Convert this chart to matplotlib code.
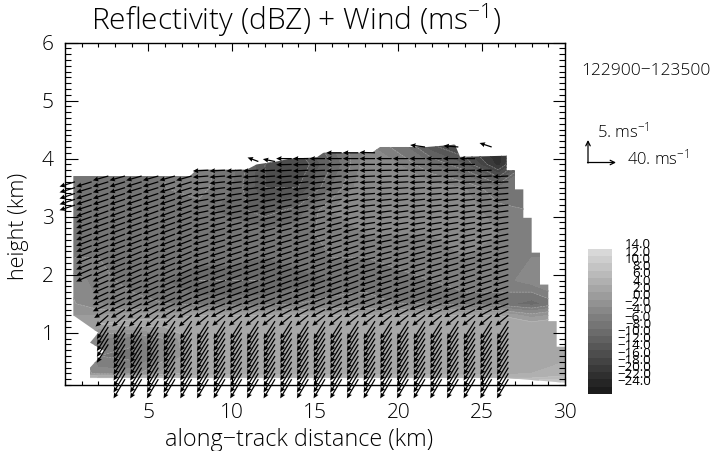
import matplotlib
matplotlib.use("Agg")
import matplotlib.pyplot as plt
import numpy as np
from matplotlib.colors import BoundaryNorm, LinearSegmentedColormap
from matplotlib.patches import Polygon
from matplotlib.ticker import MultipleLocator

plt.rcParams['font.family'] = ['Open Sans', 'DejaVu Sans']
plt.rcParams['font.weight'] = 300
plt.rcParams['mathtext.default'] = 'regular'

# Reflectivity table (dBZ): rows follow refl_z, columns follow refl_x
refl_x = [0, 2, 4, 6, 8, 10, 12, 14, 16, 18, 20, 22, 24, 26, 28, 31]
refl_z = [0.1, 0.22, 0.3, 0.6, 0.9, 1.15, 1.3, 1.5, 1.9, 2.3, 2.7, 3.1, 3.5, 3.9, 4.3]
refl = [
    [14, 14, 14, 14, 14, 14, 14, 14, 14, 14, 14, 14, 14, 14, 12, 12],
    [7, 6, 6, 6, 6, 6, 6, 6, 6, 6, 6, 6, 6, 6, 6, 8],
    [2, -3, -3, 1, 3, 3, 3, 3, 3, 3, 3, 3, 3, 3, 4, 5],
    [2, -6, -7, -3, 3, 3, 3, 3, 3, 3, 3, 3, 3, 3, 4, 4],
    [2, -4, -5, -2, 3, 3, 3, 3, 3, 3, 3, 3, 3, 3, 3, 3],
    [1, 2, 3, 3, 3, 3, 3, 3, 3, 3, 3, 3, 3, 3, 3, 3],
    [0, 0, 1, 1, 2, 2, 2, 2, 2, 2, 2, 2, 2, 2, -1, 2],
    [-1, -4, -5, -6, -7, -7, -7, -6, -5, -5, -6, -6, -7, -7, -9, -4],
    [-2, -5, -7, -8, -10, -10, -10, -9, -8, -7, -7, -6, -5, -5, -3, -3],
    [-6, -6, -6, -7, -7, -7, -8, -7, -6, -6, -5, -5, -4, -4, -4, -4],
    [-6, -7, -7, -7, -6, -6, -7, -7, -5, -4, -4, -4, -3, -4, -5, -5],
    [-6, -7, -7, -7, -7, -9, -11, -9, -4, -3, -3, -3, -3, -5, -6, -5],
    [-6, -6, -6, -6, -5, -8, -14, -14, -8, -2, -3, -3, -4, -8, -6, -6],
    [-6, -6, -6, -6, -5, -7, -14, -16, -10, -3, -4, -8, -12, -21, -8, -6],
    [-6, -6, -6, -6, -4, -6, -12, -13, -8, -4, -8, -15, -18, -22, -8, -8],
]

# Outline of the echo region (km, km)
edge_x = [0.5, 7.5, 7.9, 10.9, 11.5, 12.7, 13.5, 15.1, 15.5, 18.4, 18.9, 21.7, 23.4, 23.7, 26.5, 26.5, 27.0, 27.0, 27.5, 27.5, 28.0, 28.0, 28.5, 28.5, 29.0, 29.0, 29.5, 29.5, 30.0, 30.4,
          26.5, 1.5, 1.5, 2.4, 1.5, 2.0, 0.5]
edge_z = [3.7, 3.7, 3.81, 3.81, 3.9, 3.95, 4.0, 4.02, 4.1, 4.1, 4.2, 4.2, 4.24, 4.03, 4.05, 3.8, 3.8, 3.47, 3.47, 2.98, 2.98, 2.38, 2.38, 1.83, 1.83, 1.2, 1.2, 0.76, 0.76, 0.13,
          0.22, 0.22, 0.4, 0.68, 0.83, 1.0, 1.3]

# Wind: tail columns and levels, each column has a lowest and highest level
col_x = [0.6, 1.6, 2.6, 3.6, 4.6, 5.6, 6.6, 7.6, 8.6, 9.6, 10.6, 11.6, 12.6, 13.6,
         14.6, 15.6, 16.6, 17.6, 18.6, 19.6, 20.6, 21.6, 22.6, 23.6, 24.6, 25.6, 26.6]
col_bottom = [3.2, 2.0, 0.8, 0.2, 0.2, 0.2, 0.2, 0.2, 0.2, 0.2, 0.2, 0.2, 0.2, 0.2,
              0.2, 0.2, 0.2, 0.2, 0.2, 0.2, 0.2, 0.2, 0.2, 0.2, 0.2, 0.2, 0.2]
col_top = [3.6, 3.6, 3.7, 3.7, 3.7, 3.7, 3.7, 3.7, 3.8, 3.8, 3.8, 3.8, 3.8, 4.0,
           4.0, 4.0, 4.1, 4.1, 4.1, 4.0, 4.0, 4.0, 4.0, 4.0, 4.0, 3.8, 3.7]
levels = [0.2, 0.3, 0.4, 0.5, 0.6, 0.7, 0.8, 0.9, 1.0, 1.1, 1.2, 1.3, 1.4, 1.5, 1.6, 1.7, 1.8, 1.9, 2.0,
          2.1, 2.2, 2.3, 2.4, 2.5, 2.6, 2.7, 2.8, 2.9, 3.0, 3.1, 3.2, 3.3, 3.4, 3.5, 3.6, 3.7, 3.8, 3.9, 4.0, 4.1]
u_prof = [-17, -17, -17, -17, -17, -17, -17, -17, -17, -17, -17, -19, -21, -23, -23, -23, -23, -23, -23,
          -23, -23, -23, -23, -23, -23, -23, -23, -23, -23, -23, -23, -23, -23, -23, -23, -23, -23, -23, -23, -23]
w_west = [-4.8, -4.8, -4.8, -4.7, -4.7, -4.6, -4.6, -4.6, -4.6, -4.5, -4.5, -2.8, -2.1, -1.9, -1.8, -1.8, -1.7, -1.7, -1.7,
          -1.7, -1.6, -1.6, -1.6, -1.5, -1.5, -1.5, -1.4, -1.4, -1.4, -1.4, -1.3, -1.3, -1.3, -1.2, -1.2, -1.1, -1.0, -0.9, -0.8, -0.7]
w_mid = [-4.8, -4.8, -4.8, -4.7, -4.7, -4.6, -4.6, -4.6, -4.6, -4.5, -4.5, -2.6, -1.9, -1.6, -1.5, -1.4, -1.4, -1.4, -1.4,
         -1.3, -1.3, -1.3, -1.2, -1.2, -1.1, -1.1, -1.0, -1.0, -0.9, -0.8, -0.8, -0.7, -0.6, -0.5, -0.4, -0.3, -0.2, -0.1, 0.0, 0.0]
w_east = [-4.8, -4.8, -4.8, -4.7, -4.7, -4.6, -4.6, -4.6, -4.6, -4.5, -4.5, -2.6, -1.9, -1.5, -1.4, -1.3, -1.3, -1.2, -1.2,
          -1.1, -1.1, -1.0, -1.0, -0.9, -0.8, -0.8, -0.7, -0.6, -0.5, -0.5, -0.4, -0.4, -0.3, -0.3, -0.2, -0.2, -0.1, 0.0, 0.0, 0.1]
# Isolated arrows above the main field
iso_x = [11.6, 12.6, 21.6, 23.6, 25.6]
iso_z = [3.95, 3.95, 4.2, 4.2, 4.2]
iso_u = [-16, -18, -22, -22, -18]
iso_w = [1.0, 0.6, 0.5, 0.3, 1.0]

cb_labels = ['14.0', '12.0', '10.0', '8.0', '6.0', '4.0', '2.0', '0.0', '\u22122.0', '\u22124.0', '\u22126.0',
             '\u22128.0', '\u221210.0', '\u221212.0', '\u221214.0', '\u221216.0', '\u221218.0', '\u221220.0', '\u221222.0', '\u221224.0']
x_ticks = [5, 10, 15, 20, 25, 30]
y_ticks = [1, 2, 3, 4, 5, 6]

W, H = 714, 451
fig = plt.figure(figsize=(W / 100, H / 100), dpi=100)
ax = fig.add_axes([65 / W, 1 - 385 / H, 500 / W, 342.5 / H])
ax.set_xlim(0, 30)
ax.set_ylim(0.1, 6.0)

bounds = np.arange(-26, 16, 2)
cmap = LinearSegmentedColormap.from_list('g', ['#1c1c1c', '#d8d8d8'], len(bounds) - 1)
norm = BoundaryNorm(bounds, cmap.N)

cs = ax.contourf(refl_x, refl_z, refl, levels=bounds, cmap=cmap, norm=norm, extend='both', antialiased=False)
clip = Polygon(np.column_stack([edge_x, edge_z]), closed=True, transform=ax.transData, fc='none', ec='none')
ax.add_patch(clip)
cs.set_clip_path(clip)
lines = ax.contour(refl_x, refl_z, refl, levels=bounds[::2], colors='#c8c8c8', linewidths=0.4, alpha=0.6)
lines.set_clip_path(clip)

# wind scaling in pixels per m/s, taken from the key
sx, sz = 27 / 40, 20 / 5
X, Y, U, V = [], [], [], []
for cx, lo, hi in zip(col_x, col_bottom, col_top):
    prof = w_west if cx < 8 else (w_mid if cx < 18 else w_east)
    for z, u, w in zip(levels, u_prof, prof):
        if lo - 1e-6 <= z <= hi + 1e-6:
            X.append(cx); Y.append(z); U.append(u * sx); V.append(w * sz)
for cx, z, u, w in zip(iso_x, iso_z, iso_u, iso_w):
    X.append(cx); Y.append(z); U.append(u * sx); V.append(w * sz)
ax.quiver(X, Y, U, V, angles='uv', scale_units='dots', scale=1, units='dots', width=1.25,
          headwidth=4.0, headlength=4.4, headaxislength=4.0, minlength=0, pivot='tail',
          color='black', clip_on=False, zorder=5)

ax.set_xticks(x_ticks)
ax.set_yticks(y_ticks)
ax.xaxis.set_minor_locator(MultipleLocator(1))
ax.yaxis.set_minor_locator(MultipleLocator(0.1))
ax.tick_params(which='major', axis='x', direction='in', length=6, width=0.8, top=True, labelsize=15, pad=13)
ax.tick_params(which='minor', axis='x', direction='in', length=3.2, width=0.8, top=True)
ax.tick_params(which='major', axis='y', direction='in', length=9, width=0.8, right=True, labelsize=15, pad=8)
ax.tick_params(which='minor', axis='y', direction='in', length=4.5, width=0.8, right=True)
for s in ax.spines.values():
    s.set_linewidth(1.0)

def ftext(px, py, s, size, **kw):
    return fig.text(px / W, 1 - py / H, s, fontsize=size, va='center', **kw)

ftext(296, 20, 'Reflectivity (dBZ) + Wind (ms$^{-1}$)', 21.5, ha='center')
ftext(299, 440, 'along\u2212track distance (km)', 16.8, ha='center')
ftext(19, 226, 'height (km)', 15.5, ha='center', rotation=90)
ftext(581, 71, '122900\u2212123500', 12.5, ha='left')
ftext(597, 131, '5. ms$^{-1}$', 12, ha='left')
ftext(627, 158, '40. ms$^{-1}$', 12, ha='left')

key = fig.add_axes([0, 0, 1, 1], facecolor='none')
key.set_xlim(0, W); key.set_ylim(H, 0); key.axis('off')
key.annotate('', xy=(588, 140), xytext=(588, 163), arrowprops=dict(arrowstyle='->', lw=0.9, color='black', shrinkA=0, shrinkB=0, mutation_scale=8))
key.annotate('', xy=(616, 162.5), xytext=(587.5, 162.5), arrowprops=dict(arrowstyle='->', lw=0.9, color='black', shrinkA=0, shrinkB=0, mutation_scale=8))

cax = fig.add_axes([588 / W, 1 - 394 / H, 24 / W, 145 / H])
centers = bounds[:-1] + 1
cax.imshow(np.array(centers)[::-1].reshape(-1, 1), cmap=cmap, norm=norm, aspect='auto', interpolation='nearest')
cax.axis('off')
for i, lab in enumerate(cb_labels):
    ftext(651, 245 + i * 7.21, lab, 9.5, ha='right', weight=400)

fig.savefig('out.png', dpi=100)
